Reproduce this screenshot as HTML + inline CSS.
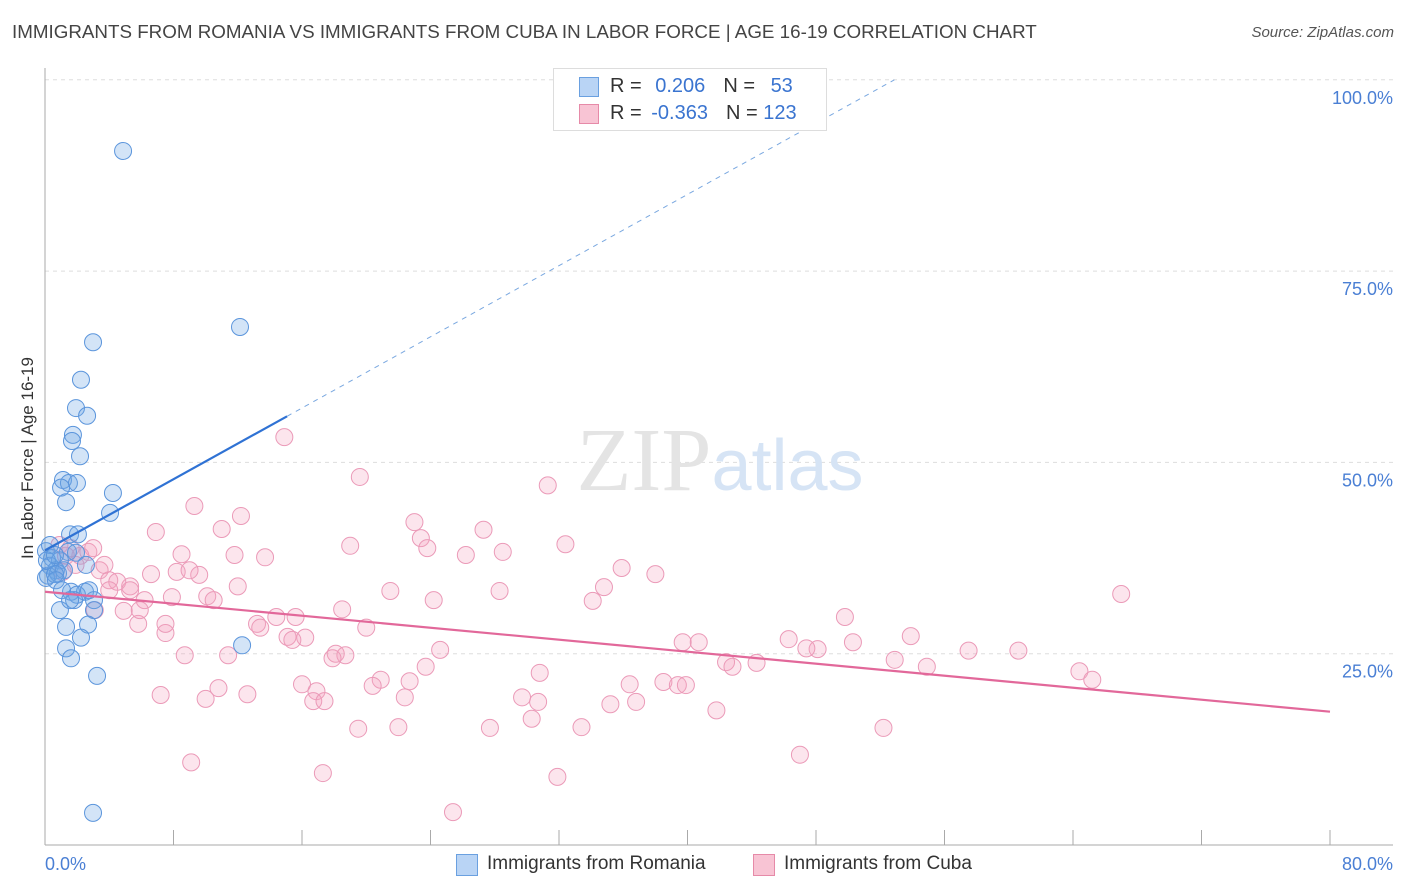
<!DOCTYPE html>
<html><head><meta charset="utf-8"><style>
body{margin:0;background:#fff;font-family:"Liberation Sans",sans-serif;}
#wrap{position:relative;width:1406px;height:892px;overflow:hidden;}
.t{position:absolute;white-space:nowrap;}
</style></head><body>
<div id="wrap">
<div class="t" style="left:12px;top:21px;font-size:18.8px;color:#444;">IMMIGRANTS FROM ROMANIA VS IMMIGRANTS FROM CUBA IN LABOR FORCE | AGE 16-19 CORRELATION CHART</div>
<div class="t" style="right:12px;top:24px;font-size:15px;color:#555;font-style:italic;">Source: ZipAtlas.com</div>
<div class="t" style="left:28px;top:458px;font-size:17px;color:#333;transform:translate(-50%,-50%) rotate(-90deg);">In Labor Force | Age 16-19</div>
<svg id="svg" width="1406" height="892" style="position:absolute;left:0;top:0"></svg>
<div style="position:absolute;left:553px;top:68px;width:272px;height:61px;border:1px solid #ddd;background:#fff;font-size:20px;">
 <div style="position:absolute;left:25px;top:8px;width:18px;height:18px;background:#b9d4f5;border:1px solid #6aa0e0;"></div>
 <div class="t" style="left:56px;top:6px;color:#333;">R = <span style="color:#3a74d0;margin-left:8px">0.206</span><span style="margin-left:18px">N = </span><span style="color:#3a74d0;margin-left:10px">53</span></div>
 <div style="position:absolute;left:25px;top:35px;width:18px;height:18px;background:#f8c4d4;border:1px solid #e68aa8;"></div>
 <div class="t" style="left:56px;top:33px;color:#333;">R = <span style="color:#3a74d0;margin-left:4px">-0.363</span><span style="margin-left:18px">N = </span><span style="color:#3a74d0;margin-left:0px">123</span></div>
</div>
<div style="position:absolute;left:456px;top:854px;font-size:19px;color:#333;">
 <div style="position:absolute;left:0;top:0;width:20px;height:20px;background:#b9d4f5;border:1px solid #6aa0e0;"></div>
 <div class="t" style="left:31px;top:-1px;">Immigrants from Romania</div></div>
<div style="position:absolute;left:753px;top:854px;font-size:19px;color:#333;">
 <div style="position:absolute;left:0;top:0;width:20px;height:20px;background:#f8c4d4;border:1px solid #e68aa8;"></div>
 <div class="t" style="left:31px;top:-1px;">Immigrants from Cuba</div></div>
</div>
<script>
const romX=[4.86,12.14,2.99,2.24,1.93,2.62,1.74,1.68,2.18,1.12,1.49,1.99,1.0,1.31,4.23,4.05,1.56,2.05,1.43,1.93,0.06,0.44,0.93,0.31,0.68,0.19,0.81,1.18,2.55,0.06,0.62,2.49,1.62,1.99,3.05,0.93,1.81,3.05,1.31,2.68,2.24,1.31,1.62,3.24,12.27,2.99,0.31,0.68,1.06,0.12,2.74,0.62,1.56];
const romY=[90.7,67.7,65.7,60.8,57.1,56.1,53.6,52.8,50.8,47.7,47.3,47.3,46.7,44.8,46.0,43.4,40.6,40.6,38.3,38.2,38.4,37.5,37.2,36.5,35.9,35.2,35.5,35.9,36.6,34.9,35.4,33.1,33.1,32.7,32.0,30.7,32.0,30.7,28.5,28.8,27.1,25.7,24.4,22.1,26.1,4.2,39.2,34.6,33.3,37.2,33.3,37.9,32.0];
const cubX=[14.9,19.6,31.3,9.3,23.0,27.3,6.9,11.0,12.2,32.4,19.0,23.4,23.8,26.2,28.5,8.5,11.8,13.7,35.9,38.0,6.6,8.2,9.6,34.8,21.5,28.3,67.0,24.2,34.1,5.3,6.2,4.9,7.9,10.1,10.5,12.0,18.5,49.8,20.0,13.2,14.4,15.6,7.5,5.8,13.4,15.1,16.2,15.4,53.9,39.7,40.7,46.3,48.1,50.3,47.4,24.6,8.7,11.4,18.1,18.7,17.9,42.4,44.3,42.8,52.9,54.9,57.5,60.6,64.4,65.2,30.8,20.9,22.7,23.7,16.0,16.9,36.4,38.5,39.4,39.9,20.4,7.2,10.8,12.6,10.0,16.7,17.4,22.4,29.7,30.7,35.2,36.8,41.8,30.3,19.5,22.0,27.7,33.4,52.2,47.0,9.1,17.3,31.9,25.4,3.4,4.0,4.5,2.7,3.0,2.2,1.6,0.9,1.3,3.7,1.1,1.9,3.1,4.0,5.3,5.9,7.5,9.0];
const cubY=[53.3,48.1,47.0,44.3,42.2,41.2,40.9,41.3,43.0,39.3,39.1,40.1,38.8,37.9,38.3,38.0,37.9,37.6,36.2,35.4,35.4,35.7,35.3,33.7,33.2,33.2,32.8,32.0,31.9,33.8,32.0,30.6,32.4,32.5,32.0,33.8,30.8,29.8,28.4,28.9,29.8,29.8,27.7,28.9,28.4,27.2,27.1,26.8,27.3,26.5,26.5,26.9,25.6,26.5,25.7,25.5,24.8,24.8,25.0,24.8,24.4,23.9,23.8,23.3,24.2,23.3,25.4,25.4,22.7,21.6,22.5,21.6,21.4,23.3,21.0,20.1,21.0,21.3,20.9,20.9,20.8,19.6,20.5,19.7,19.1,18.8,18.8,19.3,19.3,18.7,18.4,18.7,17.6,16.5,15.2,15.4,15.3,15.4,15.3,11.8,10.8,9.4,8.9,4.3,35.9,34.6,34.4,38.3,38.8,37.8,38.8,39.2,37.8,36.6,35.7,36.6,30.7,33.3,33.3,30.7,28.9,35.9];
const romTrend=[38.5,1.163]; // intercept, slope
const cubTrend=[33.1,-0.196];
const yTicks=[25,50,75,100];
const yTickLabels=["25.0%","50.0%","75.0%","100.0%"];
const xTicks=[0,8,16,24,32,40,48,56,64,72,80];

const NS="http://www.w3.org/2000/svg";
const svg=document.getElementById('svg');
const X=v=>45+v*(1285/80), Y=v=>845-v*7.652;
function el(t,a){const e=document.createElementNS(NS,t);for(const k in a)e.setAttribute(k,a[k]);svg.appendChild(e);return e;}
yTicks.forEach((v,i)=>{
 const g=el('line',{x1:45,x2:1393,y1:Y(v),y2:Y(v),stroke:'#ddd','stroke-dasharray':'4,4'});
 
 
 const t=el('text',{x:1393,y:Y(v)+24,'text-anchor':'end','font-size':18,fill:'#4a7fd4','font-family':'Liberation Sans'});
 t.textContent=yTickLabels[i];
 
 
});
const ax=el('line',{x1:45,x2:45,y1:68,y2:845,stroke:'#aaa'});


const bx=el('line',{x1:45,x2:1393,y1:845,y2:845,stroke:'#aaa'});


xTicks.forEach(v=>{
 const l=el('line',{x1:X(v),x2:X(v),y1:830,y2:845,stroke:'#aaa'});
 
 
});
const wm=el('text',{x:720,y:490,'text-anchor':'middle','font-size':90,fill:'#e4e4e4','font-family':'Liberation Serif'});
wm.innerHTML='ZIP<tspan fill="#d6e4f5" font-family="Liberation Sans" font-size="72">atlas</tspan>';


[['0.0%',45,'start'],['80.0%',1393,'end']].forEach(a=>{
 const t=el('text',{x:a[1],y:870,'text-anchor':a[2],'font-size':18,fill:'#4a7fd4','font-family':'Liberation Sans'});
 t.textContent=a[0];
 
 
});
cubX.forEach((x,i)=>{
 const c=el('circle',{cx:X(x),cy:Y(cubY[i]),r:8.5,fill:'rgba(244,160,190,0.28)',stroke:'#eb9ab8','stroke-width':1});
 
 
});
romX.forEach((x,i)=>{
 const c=el('circle',{cx:X(x),cy:Y(romY[i]),r:8.5,fill:'rgba(110,165,230,0.3)',stroke:'#5b95dc','stroke-width':1});
 
 
});
const xe=15.07, xd=(100-romTrend[0])/romTrend[1];
const rl=el('line',{x1:X(0),y1:Y(romTrend[0]),x2:X(xe),y2:Y(romTrend[0]+romTrend[1]*xe),stroke:'#2f72d4','stroke-width':2.2});


const rd=el('line',{x1:X(xe),y1:Y(romTrend[0]+romTrend[1]*xe),x2:X(xd),y2:Y(100),stroke:'#7aa8e0','stroke-width':1,'stroke-dasharray':'5,5'});


const cl=el('line',{x1:X(0),y1:Y(cubTrend[0]),x2:X(80),y2:Y(cubTrend[0]+cubTrend[1]*80),stroke:'#e2689a','stroke-width':2.2});


</script>
</body></html>
